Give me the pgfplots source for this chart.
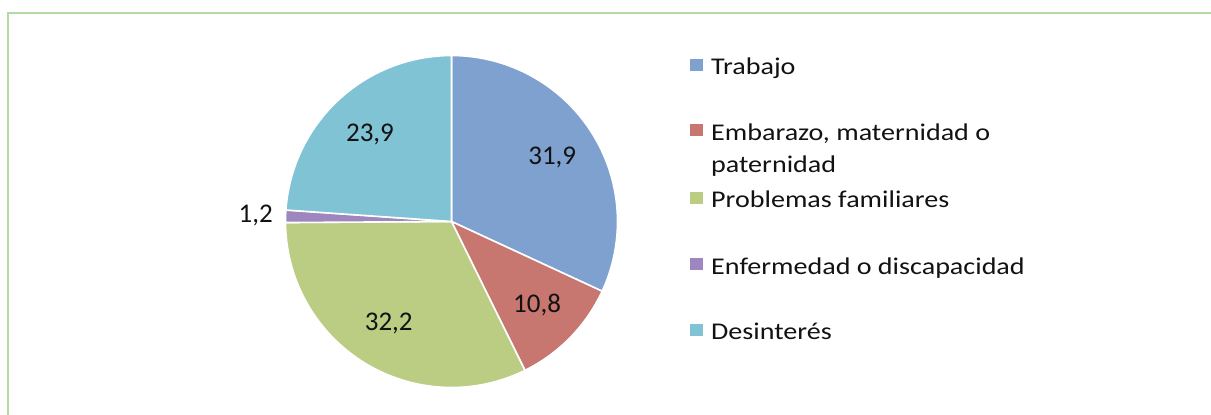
\documentclass[border=0pt]{standalone}
\usepackage{pgfplots}
\pgfplotsset{compat=1.18}
\usepgfplotslibrary{polar}
\usepackage{fontspec}
\setmainfont{Carlito}
\newfontfamily\legfont[FakeStretch=1.17]{Carlito}

\definecolor{cTrab}{RGB}{126,161,207}
\definecolor{cEmb}{RGB}{200,118,112}
\definecolor{cFam}{RGB}{187,204,131}
\definecolor{cEnf}{RGB}{158,134,190}
\definecolor{cDes}{RGB}{128,195,213}
\definecolor{framegreen}{RGB}{178,220,163}
\definecolor{txt}{RGB}{18,18,18}

% legend entry: colour, baseline (px from top), text
\newcommand{\legentry}[3]{%
  \fill[#1] (690,{415-#2+4}) rectangle (703,{415-#2+16});
  \node[anchor=base west, inner sep=0pt, text=txt,
        font=\legfont\fontsize{24}{32}\selectfont] at (711,{415-#2}) {#3};}

\begin{document}
\begin{tikzpicture}[x=1pt,y=1pt]
\path[use as bounding box] (0,0) rectangle (1211,415);
\draw[framegreen, line width=2.2pt] (8,0) -- (8,402) -- (1211,402);

\begin{polaraxis}[
  at={(451.5pt,193.5pt)}, anchor=origin,
  width=332pt, height=332pt, scale only axis,
  hide axis, clip=false,
  xmin=0, xmax=360, ymin=0, ymax=1,
  every axis plot/.append style={draw=white, line width=1.6pt, line join=round},
]
% shares (%): 31.9, 10.8, 32.2, 1.2, 23.9 ; 3.6 deg per %, clockwise from 90 deg
\addplot[fill=cTrab, domain=-24.84:90,     samples=90] {1} -- (axis cs:0,0) -- cycle;
\addplot[fill=cEmb,  domain=-63.72:-24.84, samples=40] {1} -- (axis cs:0,0) -- cycle;
\addplot[fill=cFam,  domain=-179.64:-63.72, samples=90] {1} -- (axis cs:0,0) -- cycle;
\addplot[fill=cEnf,  domain=-183.96:-179.64, samples=5] {1} -- (axis cs:0,0) -- cycle;
\addplot[fill=cDes,  domain=-270:-183.96,  samples=70] {1} -- (axis cs:0,0) -- cycle;

\begin{scope}[every node/.style={text=txt, font=\fontsize{27}{27}\selectfont}]
\node at (axis cs:32.58,0.72)   {31,9};
\node at (axis cs:-44.28,0.72)  {10,8};
\node at (axis cs:-121.68,0.72) {32,2};
\node at (axis cs:178.2,1.18)   {1,2};
\node at (axis cs:133.02,0.72)  {23,9};
\end{scope}
\end{polaraxis}

\legentry{cTrab}{75}{Trabajo}
\legentry{cEmb}{140.5}{Embarazo, maternidad o}
\node[anchor=base west, inner sep=0pt, text=txt,
      font=\legfont\fontsize{24}{32}\selectfont] at (711,{415-172.5}) {paternidad};
\legentry{cFam}{208}{Problemas familiares}
\legentry{cEnf}{274.5}{Enfermedad o discapacidad}
\legentry{cDes}{340}{Desinterés}
\end{tikzpicture}
\end{document}
